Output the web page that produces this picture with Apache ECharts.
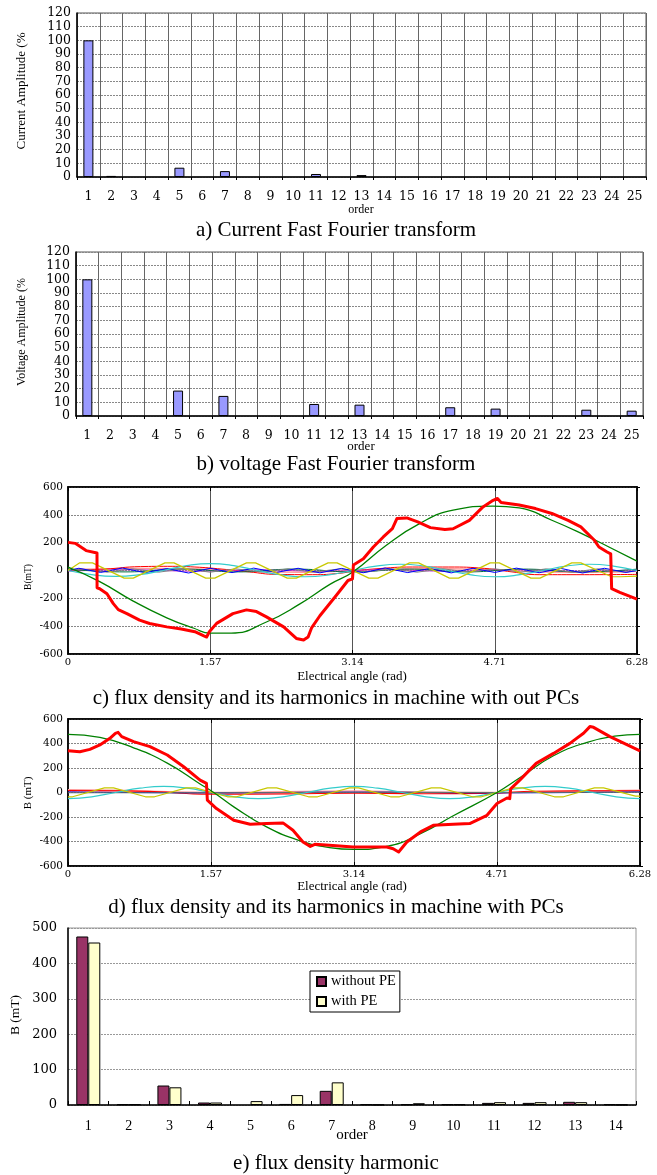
<!DOCTYPE html>
<html><head><meta charset="utf-8">
<script src="https://cdn.jsdelivr.net/npm/echarts@6/dist/echarts.min.js"></script>
<style>html,body{margin:0;padding:0;background:#fff}#chart{width:657px;height:1175px}</style>
</head><body><div id="chart"></div>
<script>
// ---------- data ----------
const ordersAB = ['1','2','3','4','5','6','7','8','9','10','11','12','13','14','15','16','17','18','19','20','21','22','23','24','25'];
const currentAmplitude = [100, 0.8, '-', '-', 6.8, '-', 4.3, '-', '-', '-', 2.2, '-', 1.4, '-', '-', '-', '-', '-', '-', '-', '-', '-', '-', '-', '-'];
const voltageAmplitude = [100, '-', '-', '-', 18.6, '-', 14.7, '-', '-', '-', 8.8, '-', 8.3, '-', '-', '-', 6.4, '-', 5.4, '-', '-', '-', 4.6, '-', 3.9];

const angleTickLabels = ['0', '1.57', '3.14', '4.71', '6.28'];

// c) without PCs
const cFlux = [[0,202],[0.08,195],[0.2,143],[0.32,126],[0.321,-124],[0.35,-131],[0.43,-167],[0.5,-238],[0.555,-281],[0.65,-310],[0.79,-357],[0.9,-381],[1.09,-405],[1.25,-420],[1.4,-440],[1.5,-470],[1.53,-478],[1.56,-440],[1.64,-380],[1.82,-310],[1.97,-283],[2.08,-295],[2.19,-333],[2.38,-405],[2.52,-488],[2.6,-500],[2.65,-478],[2.69,-410],[2.78,-325],[2.96,-180],[3.09,-72],[3.14,-60],[3.15,40],[3.26,84],[3.37,169],[3.48,241],[3.58,301],[3.63,373],[3.74,378],[3.86,350],[4.0,308],[4.16,294],[4.25,300],[4.43,360],[4.58,457],[4.68,500],[4.74,518],[4.78,489],[4.98,470],[5.16,445],[5.34,410],[5.52,360],[5.66,313],[5.81,217],[5.86,169],[5.95,133],[5.99,120],[6.0,-130],[6.09,-157],[6.28,-205]];
const cFundamental = [[0,24],[0.35,-80],[0.72,-220],[1.09,-340],[1.39,-415],[1.57,-450],[1.8,-450],[2.19,-370],[2.56,-240],[2.89,-100],[3.14,-12],[3.51,180],[3.88,337],[4.25,434],[4.69,463],[4.98,450],[5.34,361],[5.71,253],[5.97,169],[6.28,67]];
const cThird = [[0,0],[0.26,-30],[0.52,-42],[0.79,-30],[1.05,0],[1.31,35],[1.57,50],[1.83,35],[2.09,0],[2.36,-32],[2.62,-45],[2.88,-32],[3.14,0],[3.4,32],[3.67,45],[3.93,32],[4.19,0],[4.45,-32],[4.71,-45],[4.97,-32],[5.24,0],[5.5,32],[5.76,45],[6.02,32],[6.28,0]];
const cSeventh = [[0,0],[0.13,55],[0.27,55],[0.62,-55],[0.72,-55],[1.07,55],[1.17,55],[1.52,-55],[1.62,-55],[1.97,55],[2.07,55],[2.42,-55],[2.52,-55],[2.87,55],[2.97,55],[3.32,-55],[3.42,-55],[3.77,55],[3.87,55],[4.21,-55],[4.31,-55],[4.66,55],[4.76,55],[5.11,-55],[5.21,-55],[5.56,55],[5.66,55],[6.0,-45],[6.1,-45],[6.28,-40]];
const cThirteenth = [[0,0],[0.12,16],[0.36,-14],[0.6,18],[0.85,-16],[1.09,14],[1.33,-18],[1.57,16],[1.81,-15],[2.05,17],[2.3,-14],[2.54,16],[2.78,-17],[3.02,15],[3.26,-16],[3.5,18],[3.75,-15],[3.99,14],[4.23,-17],[4.47,16],[4.71,-14],[4.95,17],[5.2,-16],[5.44,15],[5.68,-18],[5.92,16],[6.16,-14],[6.28,0]];
const cEleventh = [[0,0],[0.14,12],[0.43,-12],[0.71,12],[1.0,-12],[1.28,12],[1.57,-12],[1.85,12],[2.14,-12],[2.43,12],[2.71,-12],[3.0,12],[3.28,-12],[3.57,12],[3.85,-12],[4.14,12],[4.43,-12],[4.71,12],[5.0,-12],[5.28,12],[5.57,-12],[5.85,12],[6.14,-12],[6.28,0]];
const cSecond = [[0,0],[0.4,10],[0.8,28],[1.1,30],[1.4,25],[1.7,10],[2.0,-10],[2.3,-28],[2.7,-30],[3.0,-20],[3.14,-5],[3.4,12],[3.8,25],[4.2,25],[4.6,15],[4.9,-10],[5.2,-30],[5.7,-30],[6.28,-28]];
const cPink = [[0,8],[0.5,12],[1.0,15],[1.57,8],[2.1,-8],[2.6,-12],[3.14,0],[3.7,10],[4.2,12],[4.71,5],[5.3,-10],[5.8,-12],[6.28,-6]];
const cNinth = [[0,-5],[0.7,5],[1.4,-5],[2.1,5],[2.8,-5],[3.5,5],[4.2,-5],[4.9,5],[5.6,-5],[6.28,5]];
const cFifth = [[0,10],[0.63,-10],[1.26,10],[1.88,-10],[2.51,10],[3.14,-10],[3.77,10],[4.4,-10],[5.03,10],[5.65,-10],[6.28,10]];

// d) with PCs
const dFlux = [[0,341],[0.13,333],[0.24,352],[0.35,388],[0.46,442],[0.52,483],[0.55,491],[0.59,456],[0.72,415],[0.9,374],[1.09,306],[1.27,210],[1.45,101],[1.52,74],[1.53,-63],[1.63,-131],[1.82,-227],[2.0,-259],[2.18,-254],[2.36,-248],[2.47,-308],[2.58,-404],[2.66,-440],[2.71,-423],[2.87,-431],[3.13,-445],[3.5,-445],[3.57,-459],[3.63,-486],[3.72,-404],[3.87,-322],[4.01,-268],[4.23,-259],[4.41,-254],[4.6,-186],[4.71,-90],[4.82,-45],[4.85,-50],[4.86,30],[4.96,101],[5.14,238],[5.33,319],[5.51,401],[5.66,483],[5.73,538],[5.77,532],[5.95,456],[6.28,340]];
const dFundamental = [[0,475],[0.35,450],[0.72,365],[1.09,240],[1.45,70],[1.6,0],[1.82,-117],[2.18,-281],[2.55,-395],[2.87,-450],[3.14,-465],[3.5,-440],[3.87,-336],[4.23,-190],[4.71,0],[4.96,120],[5.33,300],[5.7,410],[6.0,460],[6.28,475]];
const dThird = [[0,-50],[0.26,-35],[0.52,0],[0.79,35],[1.05,50],[1.31,35],[1.57,0],[1.83,-35],[2.09,-50],[2.36,-35],[2.62,0],[2.88,35],[3.14,50],[3.4,35],[3.67,0],[3.93,-35],[4.19,-50],[4.45,-35],[4.71,0],[4.97,35],[5.24,50],[5.5,35],[5.76,0],[6.02,-35],[6.28,-50]];
const dSeventh = [[0,-35],[0.05,-35],[0.4,38],[0.5,38],[0.85,-35],[0.95,-35],[1.3,38],[1.4,38],[1.75,-35],[1.85,-35],[2.19,38],[2.29,38],[2.64,-35],[2.74,-35],[3.09,38],[3.19,38],[3.54,-35],[3.64,-35],[3.99,38],[4.09,38],[4.44,-35],[4.54,-35],[4.89,38],[4.99,38],[5.34,-35],[5.44,-35],[5.78,38],[5.88,38],[6.23,-30],[6.28,-30]];
const dSecond = [[0,15],[0.6,14],[1.0,5],[1.3,-8],[1.57,-14],[2.4,-12],[3.14,-5],[3.9,-10],[4.71,-5],[5.1,10],[5.6,14],[6.28,14]];
const dPink = [[0,22],[0.5,18],[1.0,8],[1.57,0],[2.2,5],[3.14,12],[3.8,5],[4.71,0],[5.5,10],[6.28,18]];
const dBlue = [[0,5],[1.57,-3],[3.14,3],[4.71,-3],[6.28,5]];
const dGray = [[0,-2],[1.57,-2],[3.14,2],[4.71,0],[6.28,2]];

// e) harmonic spectrum
const ordersE = ['1','2','3','4','5','6','7','8','9','10','11','12','13','14'];
const withoutPE = [476, 2, 55, 7, '-', 3, 40, 2, 2, 2, 6, 6, 9, 2];
const withPE = [459, 2, 50, 7, 11, 28, 64, 1, 5, 2, 8, 8, 8, 1];

// ---------- chart ----------
const SERIF = '"Liberation Serif", "Times New Roman", serif';
const WIDE = '"DejaVu Serif", serif';
const chart = echarts.init(document.getElementById('chart'), null, {renderer: 'canvas'});

function catX(gi, data, inside) {
  return {
    gridIndex: gi, type: 'category', data: data, boundaryGap: true,
    axisLine: {lineStyle: {color: '#000', width: 1.5}},
    axisTick: {show: true, inside: !!inside, length: inside ? 4 : 3, lineStyle: {color: '#000'}},
    axisLabel: inside
      ? {color: '#000', fontFamily: SERIF, fontSize: 14, margin: 14}
      : {color: '#000', fontFamily: WIDE, fontSize: 12.5, margin: 13},
    splitLine: {show: !inside, lineStyle: {color: '#666', width: 1}}
  };
}
function pctY(gi) {
  return {
    gridIndex: gi, type: 'value', min: 0, max: 120, interval: 10,
    axisLine: {show: true, lineStyle: {color: '#000', width: 1.5}},
    axisTick: {show: false},
    axisLabel: {color: '#000', fontFamily: WIDE, fontSize: 12.5, margin: 6, lineHeight: 12,
      showMinLabel: true, showMaxLabel: true, hideOverlap: false},
    splitLine: {show: true, lineStyle: {color: '#888', type: [2, 1]}}
  };
}
function angleX(gi, top) {
  return {
    gridIndex: gi, type: 'value', min: 0, max: 6.28, interval: 1.57, position: top ? 'top' : 'bottom',
    axisLine: {show: true, onZero: false, lineStyle: {color: '#000', width: 1.5}},
    axisTick: {show: true, inside: true, length: 4, lineStyle: {color: '#000'}},
    axisLabel: {show: !top, color: '#000', fontFamily: WIDE, fontSize: 10, margin: 3,
      showMinLabel: true, showMaxLabel: true,
      formatter: function (v) { return angleTickLabels[Math.round(v / 1.57)]; }},
    splitLine: {show: !top, lineStyle: {color: '#555', width: 1}}
  };
}
function fluxY(gi, right) {
  return {
    gridIndex: gi, type: 'value', min: -600, max: 600, interval: 200, position: right ? 'right' : 'left',
    axisLine: {show: true, onZero: false, lineStyle: {color: '#000', width: 1.5}},
    axisTick: {show: !!right, length: 3, lineStyle: {color: '#000'}},
    axisLabel: {show: !right, color: '#000', fontFamily: WIDE, fontSize: 10.5, margin: 5,
      showMinLabel: true, showMaxLabel: true},
    splitLine: {show: !right, lineStyle: {color: '#888', type: [2, 1]}}
  };
}
function line(xi, yi, data, color, width, smooth, z) {
  return {type: 'line', xAxisIndex: xi, yAxisIndex: yi, data: data, symbol: 'none', smooth: smooth,
    lineStyle: {color: color, width: width, join: 'round'}, z: z, silent: true};
}
function txt(x, y, s, size, rot) {
  return {type: 'text', x: x, y: y, rotation: rot ? Math.PI / 2 : 0, z: 100,
    style: {text: s, fill: '#000', font: size + 'px ' + SERIF, textAlign: 'center', textVerticalAlign: 'middle'}};
}

const option = {
  animation: false,
  backgroundColor: '#fff',
  grid: [
    {left: 77, top: 13, width: 569, height: 164, show: true, borderColor: '#555', borderWidth: 1},
    {left: 76, top: 252, width: 567, height: 164, show: true, borderColor: '#555', borderWidth: 1},
    {left: 68, top: 487, width: 569, height: 167, show: true, borderColor: '#000', borderWidth: 1.5},
    {left: 68, top: 719, width: 572, height: 147, show: true, borderColor: '#000', borderWidth: 1.5},
    {left: 68, top: 928, width: 568, height: 177, show: true, borderColor: '#999', borderWidth: 1}
  ],
  xAxis: [
    catX(0, ordersAB), catX(1, ordersAB),
    angleX(2, false), angleX(2, true),
    angleX(3, false), angleX(3, true),
    catX(4, ordersE, true)
  ],
  yAxis: [
    pctY(0), pctY(1),
    fluxY(2, false), fluxY(2, true),
    fluxY(3, false), fluxY(3, true),
    {gridIndex: 4, type: 'value', min: 0, max: 500, interval: 100,
      axisLine: {show: true, lineStyle: {color: '#000', width: 1.5}},
      axisTick: {show: false},
      axisLabel: {color: '#000', fontFamily: WIDE, fontSize: 13, margin: 11, showMinLabel: true, showMaxLabel: true},
      splitLine: {show: true, lineStyle: {color: '#999', type: [2, 1]}}}
  ],
  legend: {
    data: ['without PE', 'with PE'], orient: 'vertical', left: 310, top: 971,
    itemWidth: 9, itemHeight: 9, itemGap: 5, padding: [3, 4, 3, 6],
    backgroundColor: '#fff', borderColor: '#000', borderWidth: 1,
    icon: 'rect', textStyle: {fontFamily: SERIF, fontSize: 14.5, color: '#000'}
  },
  series: [
    {type: 'bar', xAxisIndex: 0, yAxisIndex: 0, data: currentAmplitude, barWidth: 10,
      itemStyle: {color: '#9999ff', borderColor: '#000', borderWidth: 1}},
    {type: 'bar', xAxisIndex: 1, yAxisIndex: 1, data: voltageAmplitude, barWidth: 10,
      itemStyle: {color: '#9999ff', borderColor: '#000', borderWidth: 1}},

    line(2, 2, cPink, '#ff9999', 1.5, true, 2),
    line(2, 2, cSecond, '#ff0000', 1, true, 2),
    line(2, 2, cNinth, '#cc33cc', 1, true, 2),
    line(2, 2, cFifth, '#007040', 1, true, 2),
    line(2, 2, cEleventh, '#808080', 1, false, 2),
    line(2, 2, cThirteenth, '#0000ff', 1, false, 2),
    line(2, 2, cThird, '#33cccc', 1.2, true, 3),
    line(2, 2, cSeventh, '#c8c800', 1.2, false, 3),
    line(2, 2, cFundamental, '#008000', 1.3, true, 4),
    line(2, 2, cFlux, '#ff0000', 3, false, 5),

    line(4, 4, dPink, '#ff9999', 1.5, true, 2),
    line(4, 4, dSecond, '#ff0000', 1.2, true, 2),
    line(4, 4, dBlue, '#0000cc', 1, true, 2),
    line(4, 4, dGray, '#607070', 1.2, true, 2),
    line(4, 4, dThird, '#33cccc', 1.2, true, 3),
    line(4, 4, dSeventh, '#c8c800', 1.2, false, 3),
    line(4, 4, dFundamental, '#008000', 1.3, true, 4),
    line(4, 4, dFlux, '#ff0000', 3, false, 5),

    {type: 'bar', name: 'without PE', xAxisIndex: 6, yAxisIndex: 6, data: withoutPE, barWidth: 12, barGap: '0%',
      itemStyle: {color: '#993366', borderColor: '#000', borderWidth: 1}},
    {type: 'bar', name: 'with PE', xAxisIndex: 6, yAxisIndex: 6, data: withPE, barWidth: 12, barGap: '0%',
      itemStyle: {color: '#ffffcc', borderColor: '#000', borderWidth: 1}}
  ],
  graphic: [
    txt(22, 91, 'Current Amplitude (%', 13, true),
    txt(361, 210, 'order', 12),
    txt(336, 230, 'a) Current Fast Fourier transform', 21),
    txt(22, 332, 'Voltage Amplitude (%', 12, true),
    txt(361, 447, 'order', 13),
    txt(336, 464, 'b) voltage Fast Fourier transform', 21),
    txt(28, 577, 'B(mT)', 9.5, true),
    txt(352, 677, 'Electrical angle (rad)', 13),
    txt(336, 698, 'c) flux density and its harmonics in machine with out PCs', 21),
    txt(28, 793, 'B (mT)', 11, true),
    txt(352, 887, 'Electrical angle (rad)', 13),
    txt(336, 907, 'd) flux density and its harmonics in machine with PCs', 21),
    txt(15, 1015, 'B (mT)', 13.5, true),
    txt(352, 1135, 'order', 15),
    txt(336, 1163, 'e) flux density harmonic', 21)
  ]
};
chart.setOption(option);
</script>
</body></html>
